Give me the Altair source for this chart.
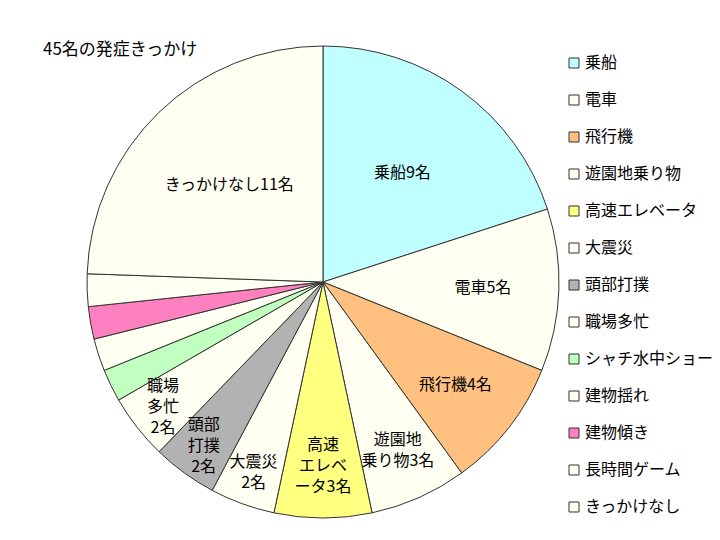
import altair as alt
import pandas as pd

categories = ["乗船", "電車", "飛行機", "遊園地乗り物", "高速エレベータ", "大震災", "頭部打撲",
              "職場多忙", "シャチ水中ショー", "建物揺れ", "建物傾き", "長時間ゲーム", "きっかけなし"]
values = [9, 5, 4, 3, 3, 2, 2, 2, 1, 1, 1, 1, 11]
slice_labels = ["乗船9名", "電車5名", "飛行機4名", "遊園地\n乗り物3名", "高速\nエレベ\nータ3名",
                "大震災\n2名", "頭部\n打撲\n2名", "職場\n多忙\n2名", "", "", "", "", "きっかけなし11名"]
colors = ["#c0ffff", "#fffff2", "#ffc080", "#fffff2", "#ffff80", "#fffff2", "#b2b2b2",
          "#fffff2", "#c0ffc0", "#fffff2", "#ff80c0", "#fffff2", "#fffff2"]
title_text = "45名の発症きっかけ"

df = pd.DataFrame({
    "idx": list(range(len(categories))),
    "category": categories,
    "value": values,
    "label": slice_labels,
})
total = sum(values)

FONT = "Noto Sans CJK JP"
FS = 16
LH = 21
CX, CY, R = 323, 282, 236
theta_scale = alt.Scale(domain=[0, total])

arcs = alt.Chart(df).mark_arc(outerRadius=R, stroke="#333333", strokeWidth=1).encode(
    theta=alt.Theta("value:Q", stack=True, scale=theta_scale),
    order=alt.Order("idx:Q"),
    x=alt.value(CX),
    y=alt.value(CY),
    color=alt.Color(
        "category:N",
        sort=categories,
        scale=alt.Scale(domain=categories, range=colors),
        legend=alt.Legend(
            title=None,
            orient="none",
            legendX=566,
            legendY=55,
            symbolType="square",
            symbolSize=100,
            symbolStrokeColor="#333333",
            symbolStrokeWidth=1,
            symbolOpacity=1,
            labelFont=FONT,
            labelFontSize=FS,
            labelColor="#000000",
            labelOffset=3,
            labelLimit=200,
            rowPadding=21,
            padding=0,
        ),
    ),
)

text_base = alt.Chart(df).transform_window(
    cum="sum(value)", sort=[alt.SortField("idx")]
).transform_calculate(
    mid="datum.cum - datum.value / 2",
    lr="datum.value >= 9 ? 135 : datum.value >= 5 ? 160 : datum.value >= 4 ? 168 : datum.value >= 3 ? 184 : 203",
    nlines="split(datum.label, '\\n').length",
)

text_layers = []
for n in (1, 2, 3):
    text_layers.append(
        text_base.transform_filter(f"datum.nlines == {n}").mark_text(
            font=FONT, fontSize=FS, color="#000000", lineBreak="\n", lineHeight=LH,
            align="center", baseline="middle", dy=-(n - 1) * LH / 2,
        ).encode(
            theta=alt.Theta("mid:Q", stack=None, scale=theta_scale),
            radius=alt.Radius("lr:Q", scale=None),
            x=alt.value(CX),
            y=alt.value(CY),
            text="label:N",
        )
    )

chart = alt.layer(arcs, *text_layers).properties(
    width=720,
    height=540,
    padding=0,
    autosize=alt.AutoSizeParams(type="none"),
    title=alt.TitleParams(
        text=title_text, anchor="start", frame="group", orient="top",
        dx=43, dy=80, font=FONT, fontSize=17, fontWeight="normal", color="#000000",
        baseline="bottom",
    ),
).configure_view(stroke=None)

chart.save("out.html", embed_options={"renderer": "svg", "actions": False})
